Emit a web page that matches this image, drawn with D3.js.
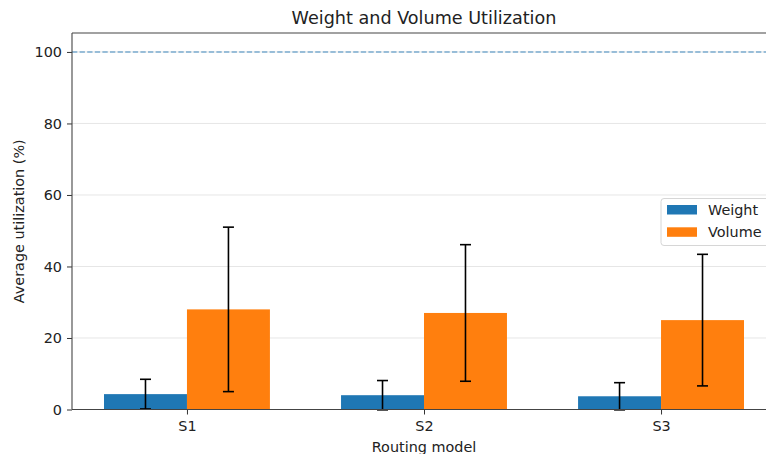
<!DOCTYPE html>
<html><head><meta charset="utf-8">
<script src="https://cdn.jsdelivr.net/npm/d3@7"></script>
<style>
html,body{margin:0;padding:0;background:#fff;overflow:hidden;width:766px;height:454px}
svg{display:block;overflow:hidden}
text{font-family:"DejaVu Sans",sans-serif;fill:#222}
</style></head>
<body><svg id="c" width="766" height="454" viewBox="0 0 766 454"></svg>
<script>
const categories = ["S1","S2","S3"];
const series = ["Weight","Volume"];
const weightMean = [4.3, 4.0, 3.7];
const weightStd = [4.15, 4.1, 3.8];
const volumeMean = [28.0, 27.0, 25.0];
const volumeStd = [23.0, 19.1, 18.4];
const yTicks = [0,20,40,60,80,100];
const refLine = 100;
const colors = ["#1f77b4","#ff7f0e"];

const svg = d3.select("#c");
const W = 766;
const L = 72, R = 776, T = 33, B = 409.5;
const x = d3.scaleLinear().domain([-0.485, 2.485]).range([L, R]);
const y = d3.scaleLinear().domain([0, 105.3]).range([B, T]);
const bw = 0.35;
const FS = "14.4px";

svg.append("defs").append("clipPath").attr("id","clip")
  .append("rect").attr("x",0).attr("y",0).attr("width",W).attr("height",454);
const root = svg.append("g").attr("clip-path","url(#clip)");

// grid
root.append("g").selectAll("line").data(yTicks).join("line")
  .attr("x1", L).attr("x2", R).attr("y1", d=>y(d)).attr("y2", d=>y(d))
  .attr("stroke", "#e6e6e6").attr("stroke-width", 1);

// reference dashed line
root.append("line").attr("x1", L).attr("x2", R).attr("y1", y(refLine)).attr("y2", y(refLine))
  .attr("stroke", "#1f77b4").attr("stroke-opacity", 0.85).attr("stroke-width", 1.1).attr("stroke-dasharray", "5.3,2.3");

const data = [
  {mean: weightMean, std: weightStd, off: -bw/2, color: colors[0]},
  {mean: volumeMean, std: volumeStd, off: bw/2, color: colors[1]}
];
data.forEach(s => {
  root.append("g").selectAll("rect").data(categories).join("rect")
    .attr("x", (d,i)=>x(i+s.off-bw/2))
    .attr("width", x(bw)-x(0))
    .attr("y", (d,i)=>y(s.mean[i]))
    .attr("height", (d,i)=>y(0)-y(s.mean[i]))
    .attr("fill", s.color);
});
data.forEach(s => {
  const g = root.append("g").attr("stroke","#000").attr("stroke-width",1.6);
  categories.forEach((c,i)=>{
    const cx = x(i+s.off);
    const lo = y(s.mean[i]-s.std[i]), hi = y(s.mean[i]+s.std[i]);
    g.append("line").attr("x1",cx).attr("x2",cx).attr("y1",lo).attr("y2",hi);
    g.append("line").attr("x1",cx-5.5).attr("x2",cx+5.5).attr("y1",lo).attr("y2",lo);
    g.append("line").attr("x1",cx-5.5).attr("x2",cx+5.5).attr("y1",hi).attr("y2",hi);
  });
});

// axes
const yAxis = d3.axisLeft(y).tickValues(yTicks).tickSize(5).tickPadding(5);
const gy = root.append("g").attr("transform",`translate(${L},0)`).call(yAxis);
gy.select(".domain").remove();
gy.selectAll("line").attr("stroke","#333");
gy.selectAll("text").attr("font-size",FS).attr("fill","#222").style("font-family","DejaVu Sans");

const xAxis = d3.axisBottom(x).tickValues([0,1,2]).tickFormat(i=>categories[i]).tickSize(5).tickPadding(6);
const gx = root.append("g").attr("transform",`translate(0,${B})`).call(xAxis);
gx.select(".domain").remove();
gx.selectAll("line").attr("stroke","#333");
gx.selectAll("text").attr("font-size",FS).attr("fill","#222").style("font-family","DejaVu Sans");

// spines (left, top, bottom; right lies outside the picture)
const sp = root.append("g").attr("stroke","#444").attr("stroke-width",1.1);
sp.append("line").attr("x1",L).attr("x2",L).attr("y1",T).attr("y2",B);
sp.append("line").attr("x1",L).attr("x2",W).attr("y1",T).attr("y2",T);
sp.append("line").attr("x1",L).attr("x2",W).attr("y1",B).attr("y2",B);

// labels
root.append("text").attr("x",(L+R)/2).attr("y",24).attr("text-anchor","middle")
  .attr("font-size","17.6px").text("Weight and Volume Utilization");
root.append("text").attr("x",(L+R)/2).attr("y",452).attr("text-anchor","middle")
  .attr("font-size",FS).text("Routing model");
root.append("text").attr("transform",`translate(24,${(T+B)/2}) rotate(-90)`).attr("text-anchor","middle")
  .attr("font-size",FS).text("Average utilization (%)");

// legend
const lg = root.append("g").attr("transform","translate(661,198.5)");
lg.append("rect").attr("x",0).attr("y",0).attr("width",120).attr("height",47).attr("rx",3)
  .attr("fill","#fff").attr("fill-opacity",0.85).attr("stroke","#d6d6d6");
series.forEach((s,i)=>{
  lg.append("rect").attr("x",6).attr("y",6.5+i*22.3).attr("width",30).attr("height",9.5).attr("fill",colors[i]);
  lg.append("text").attr("x",47).attr("y",16.5+i*22.3).attr("font-size",FS).text(s);
});
</script></body></html>
